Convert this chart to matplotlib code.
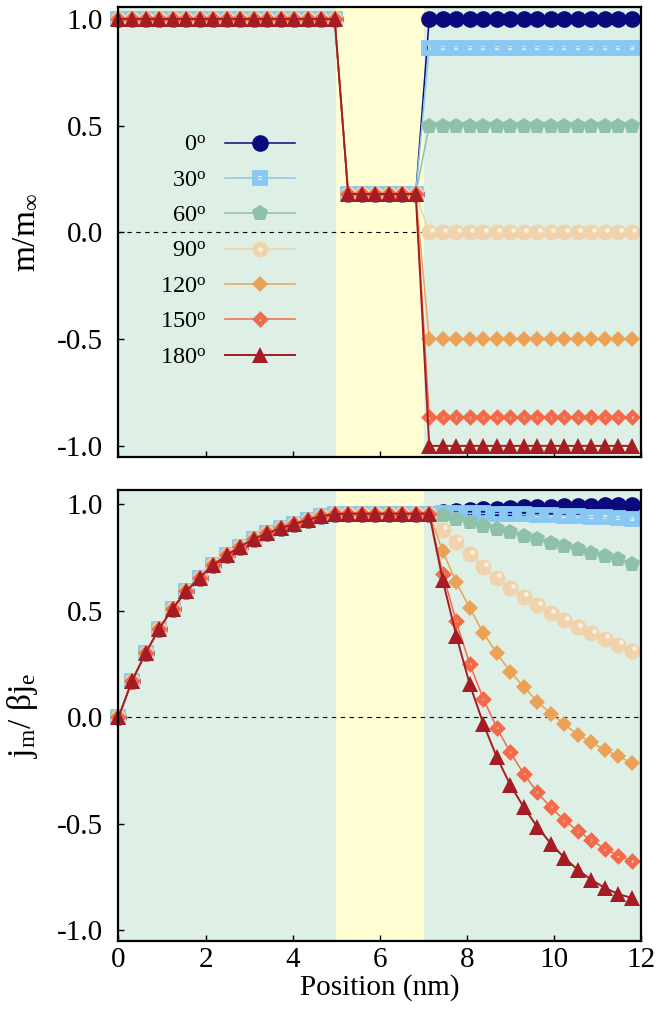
import matplotlib
matplotlib.use("Agg")
import matplotlib.pyplot as plt
from matplotlib.transforms import offset_copy
from matplotlib.legend_handler import HandlerTuple
from matplotlib.lines import Line2D
from matplotlib.ticker import FormatStrFormatter

plt.rcParams["font.family"] = ["Liberation Serif", "DejaVu Serif"]
plt.rcParams["mathtext.fontset"] = "custom"
plt.rcParams["mathtext.rm"] = "Liberation Serif"
plt.rcParams["mathtext.it"] = "Liberation Serif:italic"
plt.rcParams["axes.unicode_minus"] = False

# layer positions (nm)
position = [0.00, 0.31, 0.62, 0.93, 1.24, 1.55, 1.86, 2.17, 2.48, 2.79,
            3.10, 3.41, 3.72, 4.03, 4.34, 4.65, 4.96, 5.27, 5.58, 5.89,
            6.20, 6.51, 6.82, 7.13, 7.44, 7.75, 8.06, 8.37, 8.68, 8.99,
            9.30, 9.61, 9.92, 10.23, 10.54, 10.85, 11.16, 11.47, 11.78]

angles = ["0", "30", "60", "90", "120", "150", "180"]

# m/m_inf : common part (fixed layer + spacer), then free layer per angle
m_common = [1.0] * 17 + [0.18] * 6
m_free = {
    "0": [1.0] * 16,
    "30": [0.866] * 16,
    "60": [0.5] * 16,
    "90": [0.0] * 16,
    "120": [-0.5] * 16,
    "150": [-0.866] * 16,
    "180": [-1.0] * 16,
}

# j_m / beta j_e : common part, then free layer per angle
j_common = [0.0, 0.17, 0.30, 0.414, 0.509, 0.59, 0.655, 0.713, 0.76, 0.80,
            0.836, 0.863, 0.887, 0.906, 0.926, 0.942, 0.953,
            0.955, 0.955, 0.955, 0.955, 0.955, 0.955]
j_free = {
    "0": [0.955, 0.962, 0.967, 0.971, 0.975, 0.978, 0.981, 0.984, 0.986,
          0.988, 0.990, 0.992, 0.993, 0.995, 0.996, 0.997],
    "30": [0.955, 0.958, 0.958, 0.957, 0.956, 0.955, 0.953, 0.951, 0.949,
           0.947, 0.945, 0.942, 0.940, 0.937, 0.935, 0.932],
    "60": [0.955, 0.947, 0.930, 0.915, 0.898, 0.884, 0.868, 0.852, 0.835,
           0.819, 0.803, 0.787, 0.772, 0.758, 0.740, 0.721],
    "90": [0.955, 0.879, 0.824, 0.764, 0.706, 0.654, 0.606, 0.564, 0.524,
           0.488, 0.454, 0.422, 0.394, 0.367, 0.339, 0.312],
    "120": [0.955, 0.779, 0.632, 0.513, 0.395, 0.301, 0.213, 0.142, 0.073,
            0.017, -0.034, -0.082, -0.118, -0.153, -0.184, -0.215],
    "150": [0.955, 0.674, 0.449, 0.249, 0.087, -0.050, -0.165, -0.266, -0.353,
            -0.423, -0.483, -0.534, -0.578, -0.617, -0.649, -0.677],
    "180": [0.955, 0.642, 0.383, 0.154, -0.030, -0.187, -0.318, -0.423, -0.515,
            -0.593, -0.660, -0.716, -0.763, -0.801, -0.830, -0.848],
}

# styles: colour, marker, size, hollow edge width (0 = filled)
styles = {
    "0": ("#0a0a7c", "o", 12.0, 0),
    "30": ("#88c8f2", "s", 6.6, 4.2),
    "60": ("#8fc1a9", "p", 12.0, 0),
    "90": ("#f0d3aa", "o", 11.5, 0),
    "120": ("#eba156", "D", 8.6, 0),
    "150": ("#f3694a", "D", 5.4, 3.4),
    "180": ("#a51c24", "^", 11.0, 0),
}

BG = "#deefe5"
SPACER = "#ffffd3"

fig = plt.figure(figsize=(6.62, 10.09), dpi=100)
ax1 = fig.add_axes([0.179, 0.5471, 0.790, 0.4460])
ax2 = fig.add_axes([0.179, 0.0674, 0.790, 0.4470])


def draw(ax, y, name):
    c, mk, ms, hol = styles[name]
    lw = 1.4 if name == "180" else 1.1
    if hol:
        ln, = ax.plot(position, y, "-", color=c, lw=lw, marker=mk, ms=ms,
                      mfc="none", mec=c, mew=hol, clip_on=False)
    else:
        ln, = ax.plot(position, y, "-", color=c, lw=lw, marker=mk, ms=ms,
                      mfc=c, mew=0, clip_on=False)
    if name == "90":
        # little highlight on the beige spheres
        tr = offset_copy(ax.transData, fig=fig, x=1.8, y=1.8, units="points")
        ax.plot(position, y, "o", ms=3.4, mfc="#fbf1e3", mew=0,
                transform=tr, clip_on=False)
    return ln


handles = []
for a in angles:
    ln = draw(ax1, m_common + m_free[a], a)
    draw(ax2, j_common + j_free[a], a)
    if a == "90":
        hl = Line2D([], [], ls="none", marker="o", ms=3.4, mfc="#fbf1e3", mew=0)
        handles.append((ln, hl))
    else:
        handles.append(ln)

for ax in (ax1, ax2):
    ax.set_facecolor(BG)
    ax.axvspan(5, 7, color=SPACER, lw=0, zorder=0)
    ax.axhline(0, color="black", lw=0.8, ls=(0, (4, 4)), zorder=1.5)
    ax.set_xlim(0, 12)
    ax.set_xticks([0, 2, 4, 6, 8, 10, 12])
    ax.set_yticks([-1.0, -0.5, 0.0, 0.5, 1.0])
    ax.yaxis.set_major_formatter(FormatStrFormatter("%.1f"))
    ax.tick_params(direction="in", length=4, width=1, labelsize=21,
                   top=False, right=False)
    ax.tick_params(axis="y", pad=11)
    ax.tick_params(axis="x", pad=4)
    for s in ax.spines.values():
        s.set_linewidth(1.6)
        s.set_zorder(5)

ax1.set_ylim(-1.052, 1.056)
ax2.set_ylim(-1.05, 1.066)
ax1.tick_params(labelbottom=False)

ax1.set_ylabel("m/m$_{\\infty}$", fontsize=24)
ax2.set_ylabel("j$_{\\rm m}$/ \u03b2j$_{\\rm e}$", fontsize=24)
ax1.yaxis.set_label_coords(-0.150, 0.5)
ax2.yaxis.set_label_coords(-0.150, 0.5)
ax2.set_xlabel("Position (nm)", fontsize=21, labelpad=1)

labels = [a + "$^{\\rm o}$" for a in angles]
ax1.legend(handles, labels, loc="upper right",
           bbox_to_anchor=(295 / 662, 1 - 134 / 1009),
           bbox_transform=fig.transFigure, frameon=False, markerfirst=False,
           handlelength=2.9, handletextpad=0.75, labelspacing=0.55,
           borderpad=0, borderaxespad=0, fontsize=17.5,
           handler_map={tuple: HandlerTuple(ndivide=1)})

fig.savefig("out.png", dpi=100)
